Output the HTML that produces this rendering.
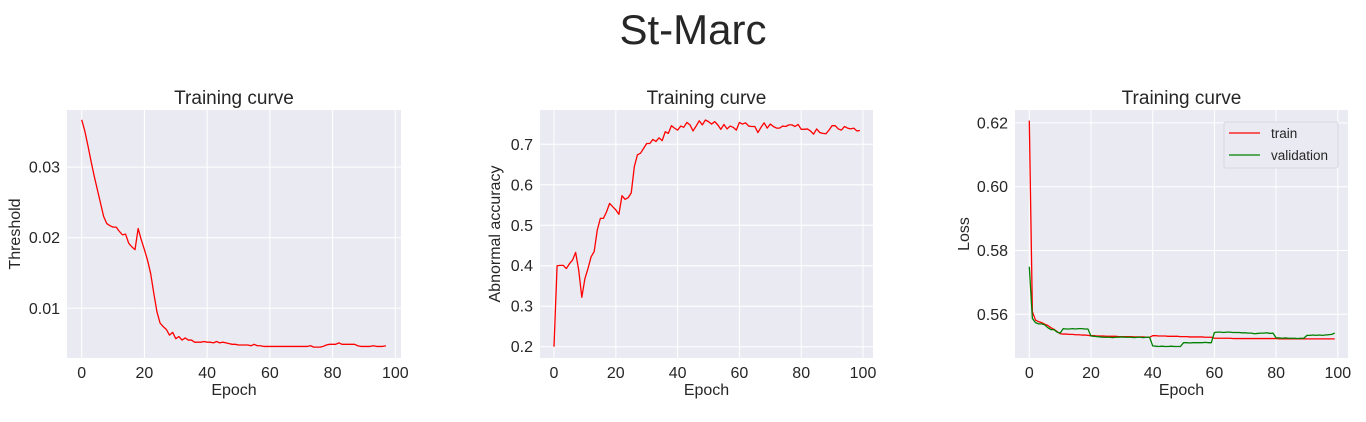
<!DOCTYPE html>
<html><head><meta charset="utf-8">
<style>
html,body{margin:0;padding:0;background:#fff;}
body{width:1366px;height:417px;overflow:hidden;font-family:"Liberation Sans",sans-serif;}
</style></head>
<body>
<svg id="fig" width="1366" height="417" xmlns="http://www.w3.org/2000/svg" font-family="Liberation Sans, sans-serif">
<text x="693" y="44" text-anchor="middle" font-size="42" fill="#262626">St-Marc</text>
</svg>
<script>
// ---- data ----
const thrX = Array.from({length:98},(_,i)=>i);
const thrVals = [0.0367,0.0351,0.033,0.0308,0.0287,0.0268,0.0249,0.023,0.022,0.0217,0.0215,0.0215,0.0209,0.0204,0.0205,0.0192,0.0187,0.0183,0.0213,0.0197,0.0183,0.0168,0.0149,0.0121,0.0095,0.0079,0.0074,0.007,0.0062,0.0066,0.0057,0.006,0.0055,0.0058,0.0055,0.0055,0.0052,0.0052,0.0052,0.0053,0.0052,0.0052,0.0051,0.0053,0.0051,0.0052,0.0051,0.005,0.0049,0.0049,0.0048,0.0048,0.0048,0.0048,0.0047,0.0049,0.0047,0.0047,0.0046,0.0046,0.0046,0.0046,0.0046,0.0046,0.0046,0.0046,0.0046,0.0046,0.0046,0.0046,0.0046,0.0046,0.0046,0.0047,0.0045,0.0045,0.0045,0.0046,0.0048,0.0049,0.0049,0.0049,0.0051,0.0049,0.0049,0.0049,0.0049,0.0049,0.0047,0.0046,0.0046,0.0046,0.0046,0.0047,0.0046,0.0046,0.0046,0.0047];
const accX = Array.from({length:100},(_,i)=>i);
const accVals = [0.2,0.4,0.401,0.401,0.393,0.405,0.414,0.433,0.389,0.322,0.368,0.393,0.422,0.435,0.488,0.517,0.517,0.533,0.554,0.546,0.538,0.527,0.573,0.564,0.568,0.58,0.645,0.674,0.678,0.69,0.702,0.702,0.712,0.707,0.716,0.709,0.731,0.727,0.746,0.74,0.735,0.745,0.742,0.754,0.748,0.733,0.745,0.758,0.748,0.76,0.756,0.75,0.756,0.748,0.737,0.749,0.738,0.745,0.742,0.735,0.754,0.75,0.753,0.745,0.744,0.744,0.729,0.742,0.753,0.74,0.75,0.744,0.74,0.74,0.745,0.744,0.748,0.748,0.744,0.749,0.737,0.737,0.738,0.733,0.725,0.738,0.729,0.727,0.726,0.735,0.746,0.746,0.738,0.735,0.744,0.74,0.738,0.74,0.733,0.734];
const lossX = Array.from({length:100},(_,i)=>i);
const trainVals = [0.6207,0.5608,0.5582,0.5577,0.5574,0.5569,0.5565,0.5558,0.5553,0.5546,0.5539,0.5538,0.5538,0.5537,0.5537,0.5536,0.5536,0.5535,0.5535,0.5534,0.5533,0.5533,0.5532,0.5532,0.5532,0.5531,0.5531,0.5531,0.5531,0.553,0.553,0.553,0.553,0.553,0.5529,0.5529,0.5529,0.5529,0.5528,0.5528,0.5533,0.5533,0.5532,0.5532,0.5532,0.5531,0.5531,0.5531,0.5531,0.553,0.553,0.553,0.5529,0.5529,0.5529,0.5529,0.5529,0.5528,0.5528,0.5528,0.5525,0.5525,0.5525,0.5525,0.5525,0.5525,0.5524,0.5524,0.5524,0.5524,0.5524,0.5524,0.5524,0.5524,0.5524,0.5524,0.5524,0.5524,0.5524,0.5524,0.5524,0.5523,0.5523,0.5523,0.5523,0.5523,0.5523,0.5523,0.5523,0.5523,0.5523,0.5523,0.5523,0.5523,0.5523,0.5523,0.5523,0.5523,0.5523,0.5523];
const valVals = [0.5749,0.5587,0.5574,0.557,0.557,0.5567,0.5558,0.5552,0.5552,0.5544,0.5541,0.5555,0.5554,0.5554,0.5555,0.5554,0.5555,0.5555,0.5554,0.5554,0.5532,0.5531,0.553,0.5529,0.5528,0.5528,0.5528,0.5527,0.5528,0.5528,0.5529,0.5528,0.5528,0.5528,0.5527,0.5528,0.5528,0.5527,0.5528,0.5528,0.5501,0.55,0.5499,0.55,0.5499,0.5499,0.55,0.5499,0.5499,0.5499,0.5511,0.5511,0.551,0.5511,0.5511,0.5511,0.5511,0.5512,0.5511,0.5511,0.5543,0.5544,0.5544,0.5543,0.5544,0.5544,0.5543,0.5543,0.5543,0.5542,0.5542,0.5541,0.5541,0.5539,0.554,0.5541,0.5541,0.5542,0.554,0.5541,0.5526,0.5526,0.5525,0.5526,0.5525,0.5525,0.5525,0.5524,0.5525,0.5525,0.5534,0.5534,0.5535,0.5534,0.5535,0.5534,0.5535,0.5536,0.5537,0.5541];
const xTicks = [0,20,40,60,80,100];
const thrTicks = [0.01,0.02,0.03];
const thrTickLabels = ["0.01","0.02","0.03"];
const accTicks = [0.2,0.3,0.4,0.5,0.6,0.7];
const accTickLabels = ["0.2","0.3","0.4","0.5","0.6","0.7"];
const lossTicks = [0.56,0.58,0.60,0.62];
const lossTickLabels = ["0.56","0.58","0.60","0.62"];

const NS="http://www.w3.org/2000/svg";
const svg=document.getElementById('fig');
function mk(tag,attrs,parent){const e=document.createElementNS(NS,tag);for(const k in attrs)e.setAttribute(k,attrs[k]);(parent||svg).appendChild(e);return e;}

function panel(cfg){
  const g=mk('g',{});
  
  
  const L=cfg.left,R=cfg.right,T=110,B=358;
  const sx=v=>cfg.x0+(v-0)*(cfg.x100-cfg.x0)/100;
  const sy=v=>cfg.yA+(v-cfg.vA)*(cfg.yB-cfg.yA)/(cfg.vB-cfg.vA);
  const bg=mk('rect',{x:L,y:T,width:R-L,height:B-T,fill:'#eaeaf2'},g);
  
  
  xTicks.forEach(t=>{
    const x=sx(t);
    const gl=mk('line',{x1:x,x2:x,y1:T,y2:B,stroke:'#fff','stroke-width':1},g);
    
    
    const tl=mk('text',{x:x,y:B+20,'text-anchor':'middle','font-size':16,fill:'#262626'},g);
    tl.textContent=t;
    
    
  });
  cfg.ticks.forEach((t,i)=>{
    const y=sy(t);
    const gl=mk('line',{x1:L,x2:R,y1:y,y2:y,stroke:'#fff','stroke-width':1},g);
    
    
    const tl=mk('text',{x:L-7,y:y+5.5,'text-anchor':'end','font-size':16,fill:'#262626'},g);
    tl.textContent=cfg.tickLabels[i];
    
    
  });
  cfg.series.forEach(s=>{
    const d=s.xs.map((x,i)=>(i?'L':'M')+sx(x).toFixed(2)+','+sy(s.ys[i]).toFixed(2)).join('');
    const p=mk('path',{d:d,fill:'none',stroke:s.color,'stroke-width':1.3,'stroke-linejoin':'round'},g);
    
    
  });
  const tt=mk('text',{x:(L+R)/2,y:104,'text-anchor':'middle','font-size':19,fill:'#262626'},g);
  tt.textContent='Training curve';
  
  
  const xl=mk('text',{x:(L+R)/2,y:395,'text-anchor':'middle','font-size':16,fill:'#262626'},g);
  xl.textContent='Epoch';
  
  
  const yl=mk('text',{x:cfg.ylx,y:(T+B)/2,'text-anchor':'middle','font-size':16,fill:'#262626',transform:`rotate(-90 ${cfg.ylx} ${(T+B)/2})`},g);
  yl.textContent=cfg.ylabel;
  
  
  return g;
}

panel({name:'threshold-panel',left:67,right:401,x0:81.7,x100:395.3,yA:237.7,vA:0.02,yB:308.3,vB:0.01,
  ticks:thrTicks,tickLabels:thrTickLabels,ylabel:'Threshold',ylx:20,
  series:[{name:'threshold-line',xs:thrX,ys:thrVals,color:'#ff0000'}]});
panel({name:'accuracy-panel',left:540,right:873,x0:554,x100:863,yA:144.3,vA:0.7,yB:346.7,vB:0.2,
  ticks:accTicks,tickLabels:accTickLabels,ylabel:'Abnormal accuracy',ylx:500,
  series:[{name:'accuracy-line',xs:accX,ys:accVals,color:'#ff0000'}]});
const lg=panel({name:'loss-panel',left:1015,right:1348,x0:1029.3,x100:1337.8,yA:186.7,vA:0.60,yB:314.3,vB:0.56,
  ticks:lossTicks,tickLabels:lossTickLabels,ylabel:'Loss',ylx:969,
  series:[{name:'train-line',xs:lossX,ys:trainVals,color:'#ff0000'},{name:'validation-line',xs:lossX,ys:valVals,color:'#008000'}]});

const leg=mk('g',{},lg);


mk('rect',{x:1224,y:122,width:114,height:46,fill:'#eaeaf2',stroke:'#d8d8e0','stroke-width':1,rx:2},leg);
[['train','#ff0000',133],['validation','#008000',155]].forEach(([lab,c,y])=>{
  const e=mk('g',{},leg);
  
  
  mk('line',{x1:1229,x2:1260,y1:y,y2:y,stroke:c,'stroke-width':1.3},e);
  const t=mk('text',{x:1271,y:y+5,'font-size':13.5,fill:'#262626'},e);
  t.textContent=lab;
});
</script>
</body></html>
